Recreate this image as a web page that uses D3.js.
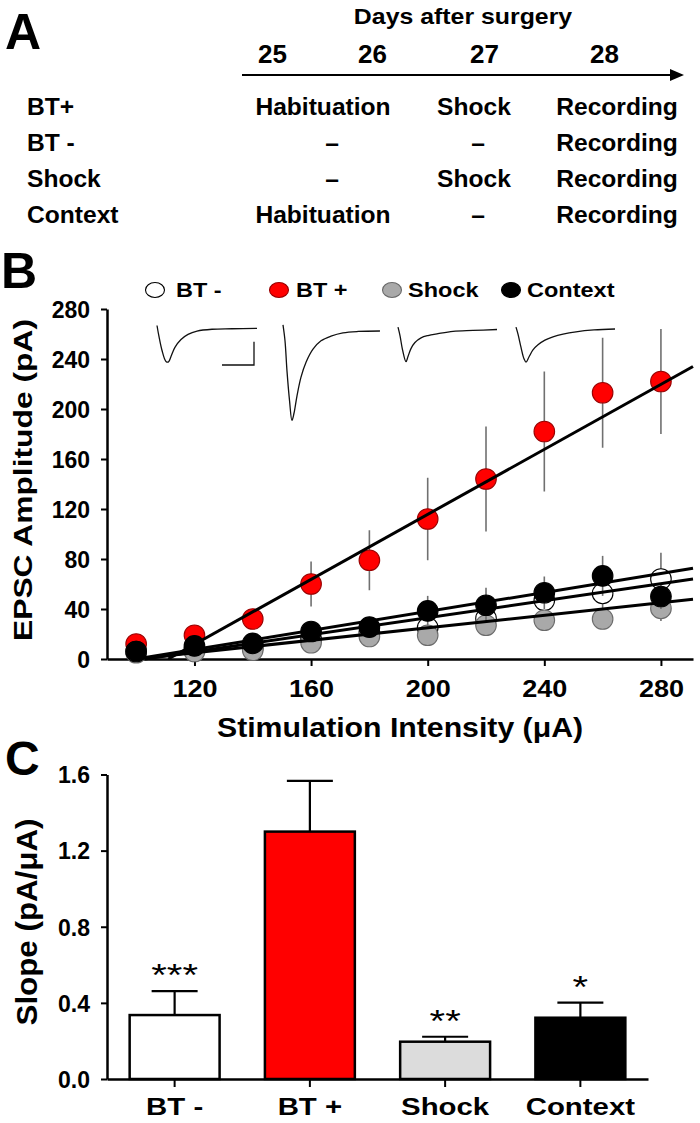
<!DOCTYPE html>
<html><head><meta charset="utf-8">
<script src="https://cdn.jsdelivr.net/npm/d3@7"></script>
<style>
body{margin:0;background:#fff}
svg{display:block}
text{font-family:"Liberation Sans",Arial,Helvetica,sans-serif}
</style>
</head><body>
<script>
// ---------------- DATA ----------------
// Panel A: protocol table
const days = ["25", "26", "27", "28"];
const protocolGroups = ["BT+", "BT -", "Shock", "Context"];
const protocolDay25_26 = ["Habituation", "–", "–", "Habituation"];
const protocolDay27 = ["Shock", "–", "Shock", "–"];
const protocolDay28 = ["Recording", "Recording", "Recording", "Recording"];

// Panel B: input-output curves
const stimIntensity = [100, 120, 140, 160, 180, 200, 220, 240, 260, 280];
const btPlusMean    = [12, 19, 32, 60, 79, 112, 144, 182, 213, 222];
const btPlusSem     = [2, 2, 3, 18, 24, 33, 42, 48, 44, 42];
const btMinusMean   = [6, 8, 9, 16, 21, 25, 32.5, 47, 52.5, 64];
const btMinusSem    = [2, 3, 3, 5, 6, 8, 10, 12, 14, 21];
const shockMean     = [5, 6, 7, 13, 18, 19, 27, 31, 32, 40.5];
const shockSem      = [2, 2, 3, 4, 5, 6, 7, 8, 8, 10];
const contextMean   = [6, 10.5, 12.5, 22, 25.5, 38.5, 43, 53, 66.5, 50];
const contextSem    = [2, 3, 4, 6, 7, 12, 14, 13, 16, 10];
// linear fits (order: BT -, BT +, Shock, Context)
const fitGroups     = ["BT -", "BT +", "Shock", "Context"];
const fitSlope      = [0.34, 1.30, 0.25, 0.38];
const fitXIntercept = [103, 111, 100, 100];
const bYTicks = [0, 40, 80, 120, 160, 200, 240, 280];
const bXTicks = [120, 160, 200, 240, 280];
const legendLabels = ["BT -", "BT +", "Shock", "Context"];

// example EPSC traces (time ms, current pA)
const trace1T = [0, 1.2, 3.1, 5.6, 7.2, 8.8, 11.2, 15, 19.4, 25, 34.4, 46.9, 62.5];
const trace1I = [6, -17, -47, -71, -72, -60, -41, -24, -13, -6, -2, -1, 0];
const trace2T = [0, 1.25, 2.5, 4.1, 5.6, 6.9, 8.75, 11.25, 14.4, 18.75, 23.75, 30, 37.5, 46.9, 60.6];
const trace2I = [13, -21, -86, -150, -192, -176, -139, -99, -67, -39, -21, -11, -4, -1, 0];
const trace3T = [0, 1.25, 2.8, 5, 6.25, 8.1, 10.6, 14.4, 18.75, 25, 34.4, 46.9, 61.9];
const trace3I = [5, -13, -43, -69, -58, -41, -28, -18, -13, -9, -4, -2, 0];
const trace4T = [0, 1.25, 3.1, 5, 6.25, 8.1, 10.6, 13.75, 18.1, 23.1, 29.4, 37.5, 48.75, 61.9];
const trace4I = [4, -11, -39, -64, -71, -60, -45, -34, -24, -17, -11, -6, -2, 0];
const scaleBarMs = 20, scaleBarPA = 50;

// Panel C: slopes
const slopeGroups = ["BT -", "BT +", "Shock", "Context"];
const slopeMean   = [0.336, 1.30, 0.196, 0.322];
const slopeSem    = [0.126, 0.267, 0.026, 0.079];
const slopeSig    = ["***", "", "**", "*"];
const cYTicks = [0, 0.4, 0.8, 1.2, 1.6];

// ---------------- STYLES ----------------
const fillOf   = {"BT -": "#ffffff", "BT +": "#ff0000", "Shock": "#a9a9a9", "Context": "#000000"};
const strokeOf = {"BT -": "#000000", "BT +": "#9a0000", "Shock": "#6a6a6a", "Context": "#000000"};
const barFillOf = {"BT -": "#ffffff", "BT +": "#ff0000", "Shock": "#dcdcdc", "Context": "#000000"};

const svg = d3.select("body").append("svg").attr("width", 700).attr("height", 1123);

function label(g, x, y, s, size, sx, opts = {}) {
  return g.append("text")
    .attr("transform", `translate(${x},${y})` + (opts.rot ? ` rotate(${opts.rot})` : "") + ` scale(${sx},1)`)
    .attr("text-anchor", opts.anchor || "start")
    .attr("font-size", size)
    .attr("font-weight", opts.weight || "bold")
    .attr("fill", opts.fill || "#000")
    .text(s);
}

// ---------------- PANEL A ----------------
const gA = svg.append("g");
label(gA, 5, 49, "A", 50, 1);
label(gA, 463, 24, "Days after surgery", 22, 1.13, {anchor: "middle"});
const dayPos = {"25": 272.5, "26": 372.5, "27": 484.5, "28": 604.5};
days.forEach(d => label(gA, dayPos[d], 63, d, 26, 1.0, {anchor: "middle"}));
gA.append("line").attr("x1", 242).attr("x2", 673).attr("y1", 75).attr("y2", 75)
  .attr("stroke", "#000").attr("stroke-width", 2.2);
gA.append("path").attr("d", "M684,75 L670,69 L670,81 Z").attr("fill", "#000");
const rowY = d3.scalePoint().domain(protocolGroups).range([115, 223]);
protocolGroups.forEach((grp, i) => {
  const y = rowY(grp);
  label(gA, 27, y, grp, 23, 1.07);
  const c1 = protocolDay25_26[i];
  label(gA, c1 === "–" ? 332 : 323, y, c1, 23, 1.07, {anchor: "middle"});
  const c2 = protocolDay27[i];
  label(gA, c2 === "–" ? 478 : 474, y, c2, 23, 1.07, {anchor: "middle"});
  label(gA, 617, y, protocolDay28[i], 23, 1.07, {anchor: "middle"});
});

// ---------------- PANEL B ----------------
const gB = svg.append("g");
label(gB, 1, 288, "B", 50, 1);
const xB = d3.scaleLinear().domain([90, 291]).range([107, 693]);
const yB = d3.scaleLinear().domain([0, 280]).range([659, 309]);

const yAxB = gB.append("g").attr("transform", "translate(107,0)")
  .call(d3.axisLeft(yB).tickValues(bYTicks).tickSize(6).tickPadding(11).tickSizeOuter(0).tickFormat(d3.format("d")));
const xAxB = gB.append("g").attr("transform", "translate(0,659)")
  .call(d3.axisBottom(xB).tickValues(bXTicks).tickSize(7).tickSizeOuter(0).tickFormat(d3.format("d")));
[yAxB, xAxB].forEach(a => {
  a.select(".domain").attr("stroke-width", 2.5);
  a.selectAll(".tick line").attr("stroke-width", 2);
  a.selectAll("text").attr("font-family", "Liberation Sans, Arial, sans-serif").attr("font-weight", "bold").attr("fill", "#000");
});
yAxB.selectAll("text").attr("font-size", 23).attr("dy", "0.36em");
xAxB.selectAll("text").attr("font-size", 23.5).attr("y", 0).attr("dy", 0)
  .attr("transform", "translate(0,38) scale(1.15,1)");

label(gB, 400, 737, "Stimulation Intensity (\u03bcA)", 28, 1.08, {anchor: "middle"});
label(gB, 32, 480, "EPSC Amplitude (pA)", 26.5, 1.2, {anchor: "middle", rot: -90});

// legend
const legX = {"BT -": 155, "BT +": 279, "Shock": 392, "Context": 511};
const legTX = {"BT -": 176, "BT +": 296, "Shock": 408, "Context": 527};
legendLabels.forEach(l => {
  gB.append("ellipse").attr("cx", legX[l]).attr("cy", 290).attr("rx", 9.5).attr("ry", 7.5)
    .attr("fill", fillOf[l]).attr("stroke", strokeOf[l]).attr("stroke-width", 1.1);
  label(gB, legTX[l], 297, l, 21, 1.12);
});

// traces
const tX = d3.scaleLinear().domain([0, 62.5]).range([0, 100]);
const tY = d3.scaleLinear().domain([0, -50]).range([0, 23.3]);
const traceLine = d3.line().x(d => tX(d[0])).y(d => tY(d[1])).curve(d3.curveCatmullRom);
const traces = [[trace1T, trace1I], [trace2T, trace2I], [trace3T, trace3I], [trace4T, trace4I]];
const traceOrigin = [[157, 328.3], [283, 331], [398, 329.5], [516, 329]];
traces.forEach((tr, k) => {
  const pts = tr[0].map((t, i) => [t, tr[1][i]]);
  gB.append("path").attr("transform", `translate(${traceOrigin[k][0]},${traceOrigin[k][1]})`)
    .attr("d", traceLine(pts)).attr("fill", "none").attr("stroke", "#111").attr("stroke-width", 1.3);
});
// scale bar
const sbG = gB.append("g").attr("transform", "translate(254,365)");
sbG.append("path")
  .attr("d", `M${-tX(scaleBarMs)},0 H0 V${-tY(-scaleBarPA)}`)
  .attr("fill", "none").attr("stroke", "#111").attr("stroke-width", 1.3);

// series
const series = [
  {g: "BT +", m: btPlusMean, e: btPlusSem},
  {g: "BT -", m: btMinusMean, e: btMinusSem},
  {g: "Shock", m: shockMean, e: shockSem},
  {g: "Context", m: contextMean, e: contextSem}
];
series.forEach(s => {
  const pts = stimIntensity.map((x, i) => ({x, m: s.m[i], e: s.e[i]}));
  gB.append("g").selectAll("line").data(pts).join("line")
    .attr("x1", d => xB(d.x)).attr("x2", d => xB(d.x))
    .attr("y1", d => yB(d.m - d.e)).attr("y2", d => yB(d.m + d.e))
    .attr("stroke", "#707070").attr("stroke-width", 1.6);
  gB.append("g").selectAll("circle").data(pts).join("circle")
    .attr("cx", d => xB(d.x)).attr("cy", d => yB(d.m)).attr("r", 10.3)
    .attr("fill", fillOf[s.g]).attr("stroke", strokeOf[s.g]).attr("stroke-width", 1.1);
});
// fit lines
fitGroups.forEach((g, i) => {
  const x0 = fitXIntercept[i], x1 = xB.domain()[1];
  gB.append("line")
    .attr("x1", xB(x0)).attr("y1", yB(0))
    .attr("x2", xB(x1)).attr("y2", yB(fitSlope[i] * (x1 - x0)))
    .attr("stroke", "#000").attr("stroke-width", 3);
});

// ---------------- PANEL C ----------------
const gC = svg.append("g");
label(gC, 5, 775, "C", 48, 1);
const xC = d3.scaleBand().domain(slopeGroups).range([107, 648]).paddingInner(0.335).paddingOuter(0.1675);
const yC = d3.scaleLinear().domain([0, 1.6]).range([1079, 774.5]);

const cData = slopeGroups.map((g, i) => ({g, m: slopeMean[i], e: slopeSem[i], s: slopeSig[i]}));
const capW = 46;
cData.forEach(d => {
  const cx = xC(d.g) + xC.bandwidth() / 2;
  gC.append("line").attr("x1", cx).attr("x2", cx).attr("y1", yC(d.m)).attr("y2", yC(d.m + d.e))
    .attr("stroke", "#000").attr("stroke-width", 2.2);
  gC.append("line").attr("x1", cx - capW / 2).attr("x2", cx + capW / 2)
    .attr("y1", yC(d.m + d.e)).attr("y2", yC(d.m + d.e))
    .attr("stroke", "#000").attr("stroke-width", 2.2);
  if (d.s) label(gC, cx, yC(d.m + d.e) - 5, d.s, 32, 1.25, {anchor: "middle", weight: "normal"});
});
gC.selectAll("rect.bar").data(cData).join("rect").attr("class", "bar")
  .attr("x", d => xC(d.g)).attr("width", xC.bandwidth())
  .attr("y", d => yC(d.m)).attr("height", d => yC(0) - yC(d.m))
  .attr("fill", d => barFillOf[d.g]).attr("stroke", "#000").attr("stroke-width", 2.5);

const yAxC = gC.append("g").attr("transform", "translate(107,0)")
  .call(d3.axisLeft(yC).tickValues(cYTicks).tickSize(6).tickPadding(11).tickSizeOuter(0).tickFormat(d3.format(".1f")));
const xAxC = gC.append("g").attr("transform", "translate(0,1079)")
  .call(d3.axisBottom(xC).tickSize(8).tickSizeOuter(0));
[yAxC, xAxC].forEach(a => {
  a.select(".domain").attr("stroke-width", 2.5);
  a.selectAll(".tick line").attr("stroke-width", 2);
  a.selectAll("text").attr("font-family", "Liberation Sans, Arial, sans-serif").attr("font-weight", "bold").attr("fill", "#000");
});
yAxC.selectAll("text").attr("font-size", 23).attr("dy", "0.36em");
xAxC.selectAll("text").attr("font-size", 23.5).attr("y", 0).attr("dy", 0)
  .attr("transform", "translate(0,36) scale(1.25,1)");
label(gC, 36.7, 922, "Slope (pA/\u03bcA)", 29, 1.08, {anchor: "middle", rot: -90});
</script>
</body></html>
